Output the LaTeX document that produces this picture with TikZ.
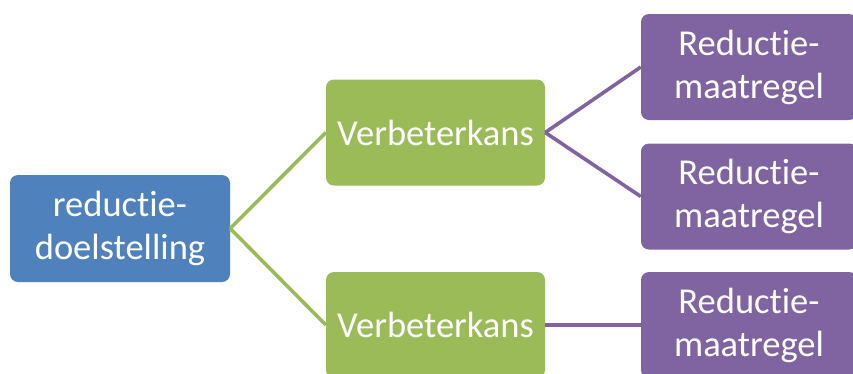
\documentclass[tikz,border=0pt]{standalone}
\usepackage{fontspec}
\setmainfont{Carlito}[RawFeature={-liga,-clig,-calt,-dlig}]
\usetikzlibrary{positioning}
\definecolor{doelblue}{HTML}{4F81BD}
\definecolor{kansgreen}{HTML}{9BBB59}
\definecolor{maatpurple}{HTML}{8064A2}

\begin{document}
\begin{tikzpicture}[x=1pt,y=1pt,on grid,
    box/.style={rectangle,rounded corners=8pt,inner sep=0pt,text=white,
      align=center,font=\fontsize{36.5}{43}\selectfont},
    doelbox/.style={box,fill=doelblue,minimum width=220pt,minimum height=107pt},
    kansbox/.style={box,fill=kansgreen,minimum width=219pt,minimum height=106pt},
    maatbox/.style={box,fill=maatpurple,minimum width=216pt,minimum height=106pt},
    kansline/.style={draw=kansgreen,line width=3.6pt},
    maatline/.style={draw=maatpurple,line width=3.6pt}]
    \useasboundingbox (0,0) rectangle (853,-373);
    \node[doelbox] (doel) at (120,-228.5) {reductie-\\doelstelling};
    \node[kansbox] (kans1) [above right=96pt and 315.5pt of doel] {Verbeterkans};
    \node[kansbox] (kans2) [below right=96.5pt and 315.5pt of doel] {Verbeterkans};
    \node[maatbox] (maat1) [above right=65.5pt and 313.5pt of kans1] {Reductie-\\maatregel};
    \node[maatbox] (maat2) [below right=64pt and 313.5pt of kans1] {Reductie-\\maatregel};
    \node[maatbox] (maat3) [right=313.5pt of kans2] {Reductie-\\maatregel};
    \path
    (doel.east)
    edge [kansline] (kans1.west)
    edge [kansline] (kans2.west)
    (kans1.east)
    edge [maatline] (maat1.west)
    edge [maatline] (maat2.west)
    (kans2.east)
    edge [maatline] (maat3.west)
    ;
  \end{tikzpicture}
\end{document}
